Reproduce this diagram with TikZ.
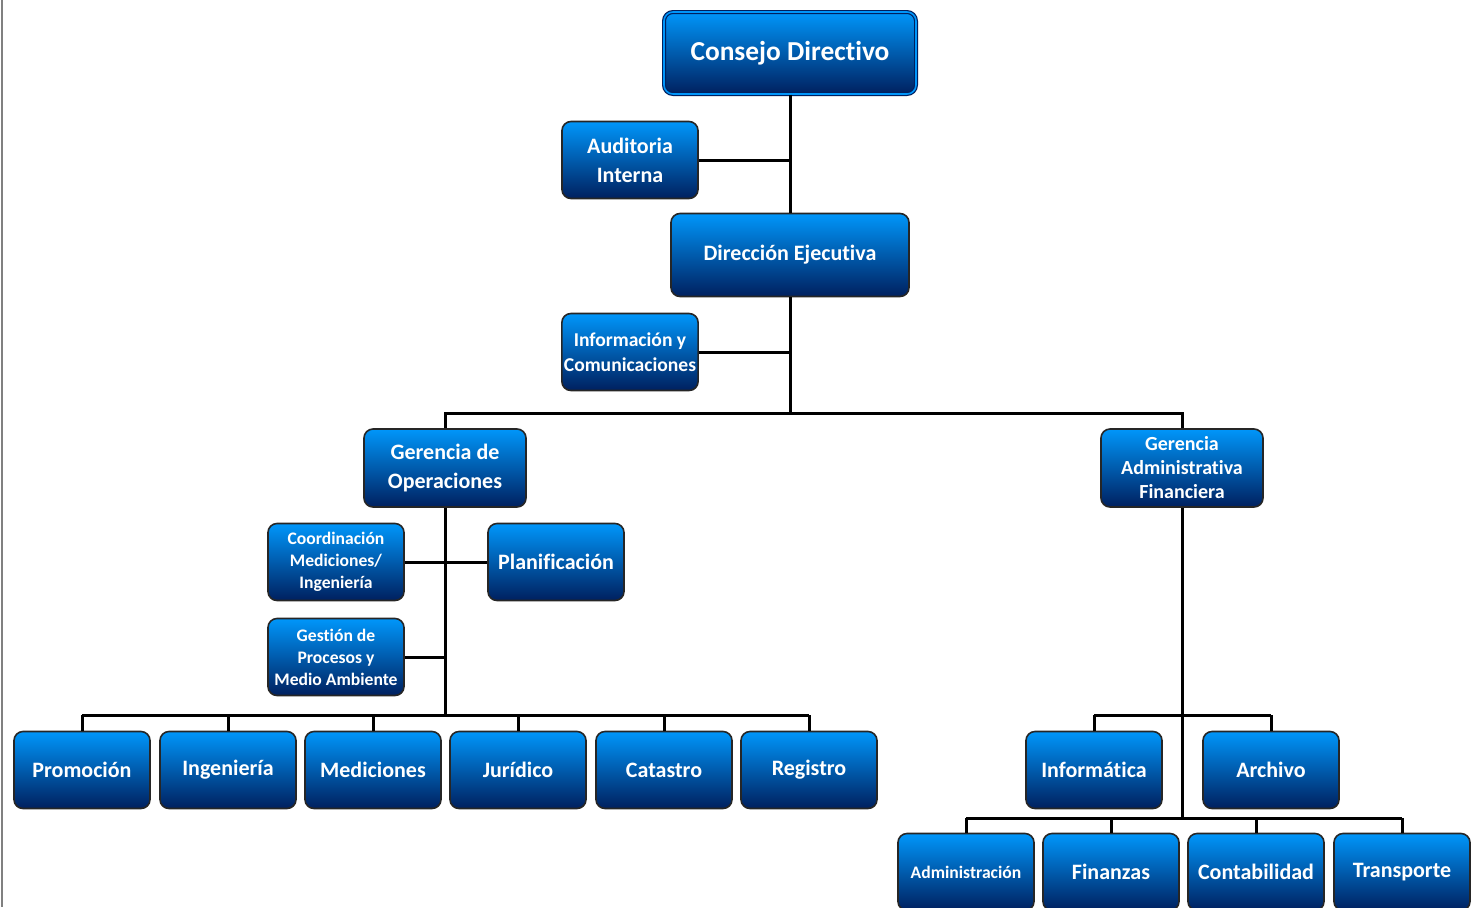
\documentclass[tikz,border=0pt]{standalone}
\usepackage{fontspec}
\setmainfont{Carlito}[Ligatures=NoCommon]
\definecolor{boxtop}{RGB}{0,150,250}
\definecolor{boxmid}{RGB}{0,98,200}
\definecolor{boxbot}{RGB}{0,32,95}
\tikzset{
  unit/.style={draw=black!85, line width=0.8pt, rounded corners=4.5pt,
    top color=boxtop, middle color=boxmid, bottom color=boxbot, text=white, align=center,
    font=\bfseries\fontsize{11}{14.5}\selectfont,
    minimum width=68pt, minimum height=38.5pt, inner sep=1pt},
  small/.style={font=\bfseries\fontsize{8.8}{11}\selectfont},
  link/.style={line width=1.5pt}
}
\begin{document}
\begin{tikzpicture}[x=0.5pt, y=-0.5pt]
                    \clip (0,0) rectangle (1480,907);
                    \fill[white] (0,0) rectangle (1480,907);
                    \draw[gray, line width=1pt] (2,0) -- (2,907);
                    \node[unit, minimum width=126pt, minimum height=41pt, draw=boxbot, double=boxtop, double distance=0.8pt, line width=0.6pt, font=\bfseries\fontsize{13.7}{15}\selectfont] (consejo) at (790,53) {Consejo Directivo};
                    \node[unit] (auditoria) at (630,160) {Auditoria\\Interna};
                    \node[unit, minimum width=119pt, minimum height=41.5pt] (direccion) at (790,255) {Direcci\'on Ejecutiva};
                    \node[unit, font=\bfseries\fontsize{9.8}{12.5}\selectfont] (informacion) at (630,352) {Informaci\'on y\\Comunicaciones};
                    \node[unit, minimum width=81pt, minimum height=39pt] (gerops) at (445,468) {Gerencia de\\Operaciones};
                    \node[unit, minimum width=81pt, minimum height=39pt, font=\bfseries\fontsize{10}{12}\selectfont] (gaf) at (1182,468) {Gerencia\\Administrativa\\Financiera};
                    \node[unit, small] (coordinacion) at (336,562) {Coordinaci\'on\\Mediciones/\\Ingenier\'ia};
                    \node[unit] (planificacion) at (556,562) {Planificaci\'on};
                    \node[unit, small] (gestion) at (336,657) {Gesti\'on de\\Procesos y\\Medio Ambiente};
                    \node[unit] (promocion) at (82,770) {Promoci\'on};
                    \node[unit] (ingenieria) at (228,770) {Ingenier\'ia};
                    \node[unit] (mediciones) at (373,770) {Mediciones};
                    \node[unit] (juridico) at (518,770) {Jur\'idico};
                    \node[unit] (catastro) at (664,770) {Catastro};
                    \node[unit] (registro) at (809,770) {Registro};
                    \node[unit] (informatica) at (1094,770) {Inform\'atica};
                    \node[unit] (archivo) at (1271,770) {Archivo};
                    \node[unit, small] (administracion) at (966,872) {Administraci\'on};
                    \node[unit] (finanzas) at (1111,872) {Finanzas};
                    \node[unit] (contabilidad) at (1256,872) {Contabilidad};
                    \node[unit] (transporte) at (1402,872) {Transporte};
                    \coordinate (busA) at (790,413);
                    \coordinate (busB) at (445,715);
                    \coordinate (busC) at (1182,715);
                    \coordinate (busD) at (1182,818);
                    \draw[link] (consejo.south) -- (direccion.north);
                    \draw[link] (auditoria.east) -- (auditoria.east -| consejo.south);
                    \draw[link] (direccion.south) -- (busA);
                    \draw[link] (informacion.east) -- (informacion.east -| direccion.south);
                    \draw[link] (gerops.north) |- (busA) -| (gaf.north);
                    \draw[link] (gerops.south) -- (busB);
                    \draw[link] (coordinacion.east) -- (planificacion.west);
                    \draw[link] (gestion.east) -- (gestion.east -| gerops.south);
                    \draw[link] (promocion.north |- busB) -- (registro.north |- busB);
                    \foreach \n in {promocion,ingenieria,mediciones,juridico,catastro,registro}
                        \draw[link] (\n.north) -- (\n.north |- busB);
                    \draw[link] (gaf.south) -- (busD);
                    \draw[link] (informatica.north |- busC) -- (archivo.north |- busC);
                    \foreach \n in {informatica,archivo}
                        \draw[link] (\n.north) -- (\n.north |- busC);
                    \draw[link] (administracion.north |- busD) -- (transporte.north |- busD);
                    \foreach \n in {administracion,finanzas,contabilidad,transporte}
                        \draw[link] (\n.north) -- (\n.north |- busD);
                \end{tikzpicture}
\end{document}
